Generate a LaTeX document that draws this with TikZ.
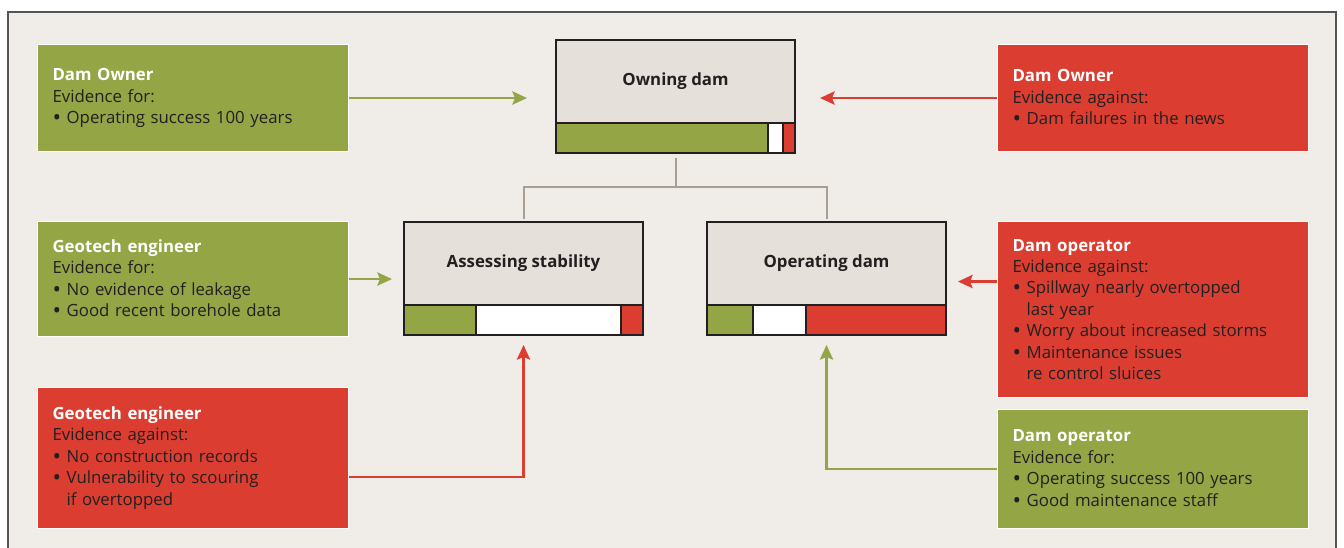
\documentclass[tikz,border=0pt]{standalone}
\usepackage{fontspec}
\setmainfont{Open Sans}
\usepackage{xcolor}
\usepackage{tikz}
\usetikzlibrary{arrows.meta,positioning}
\definecolor{panelbg}{RGB}{240,237,233}
\definecolor{taskbg}{RGB}{230,224,218}
\definecolor{forgreen}{RGB}{147,165,69}
\definecolor{againstred}{RGB}{219,62,49}
\definecolor{linkgray}{RGB}{168,158,148}
\definecolor{inkdark}{RGB}{35,31,32}
\definecolor{framegray}{RGB}{85,85,85}
\newcommand{\who}[1]{\textcolor{white}{\bfseries #1}}
\newcommand{\bul}{\raisebox{-0.22ex}{\scalebox{1.35}{\textbullet}}\ }
\newcommand{\cont}{\phantom{\scalebox{1.35}{\textbullet}\ }}

\begin{document}
\begin{tikzpicture}[x=0.75pt, y=-0.75pt,
    evidence/.style={rectangle, draw=white, line width=0.8pt, anchor=north west, text width=210.75pt, inner xsep=11.25pt, inner ysep=0pt, align=left, text=inkdark, font=\fontsize{12.6}{16.1}\selectfont},
    forbox/.style={evidence, fill=forgreen},
    againstbox/.style={evidence, fill=againstred},
    task/.style={rectangle, draw=inkdark, line width=1pt, fill=taskbg, anchor=north west, outer sep=0pt, minimum width=179.25pt, minimum height=62.25pt, font=\fontsize{12.6}{15}\selectfont\bfseries, text=inkdark},
    bar/.style={rectangle, draw=inkdark, line width=1pt, outer sep=0pt, minimum width=179.25pt, minimum height=22.5pt, inner sep=0pt},
    seg/.style={draw=inkdark, line width=1pt},
    link/.style={draw=linkgray, line width=1.5pt},
    proarrow/.style={-{Stealth[length=11pt, width=10pt, inset=2pt]}, draw=forgreen, line width=1.8pt},
    conarrow/.style={-{Stealth[length=11pt, width=10pt, inset=2pt]}, draw=againstred, line width=1.8pt}
]
\useasboundingbox (0,0) rectangle (1344,548);
\fill[white] (0,0) rectangle (1344,548);

% Panel
\fill[panelbg] (8,12) rectangle (1336,570);
\draw[framegray, line width=1.5pt] (8,570) -- (8,12) -- (1336,12) -- (1336,570);

% Decision tasks
\node[task] (owning) at (556,40) {Owning dam};
\node[bar, below=0pt of owning] (owningBar) {};
\node[task] (assess) at (404,222) {Assessing stability};
\node[bar, below=0pt of assess] (assessBar) {};
\node[task] (operate) at (707,222) {Operating dam};
\node[bar, below=0pt of operate] (operateBar) {};

% Support bars
\filldraw[seg, fill=forgreen] (owningBar.north west) rectangle ++(212,30);
\filldraw[seg, fill=white] (owningBar.north west) ++(212,0) rectangle ++(15,30);
\filldraw[seg, fill=againstred] (owningBar.north west) ++(227,0) rectangle ++(12,30);
\filldraw[seg, fill=forgreen] (assessBar.north west) rectangle ++(72,30);
\filldraw[seg, fill=white] (assessBar.north west) ++(72,0) rectangle ++(145,30);
\filldraw[seg, fill=againstred] (assessBar.north west) ++(217,0) rectangle ++(22,30);
\filldraw[seg, fill=forgreen] (operateBar.north west) rectangle ++(46,30);
\filldraw[seg, fill=white] (operateBar.north west) ++(46,0) rectangle ++(53,30);
\filldraw[seg, fill=againstred] (operateBar.north west) ++(99,0) rectangle ++(140,30);

% Evidence
\node[forbox, minimum height=80.25pt] (ownerFor) at (37,44)
    {\who{Dam Owner}\\Evidence for:\\\bul Operating success 100 years};
\node[againstbox, minimum height=80.25pt] (ownerAgainst) at (997,44)
    {\who{Dam Owner}\\Evidence against:\\\bul Dam failures in the news};
\node[forbox, minimum height=86.25pt] (geoFor) at (37,221)
    {\who{Geotech engineer}\\Evidence for:\\\bul No evidence of leakage\\\bul Good recent borehole data};
\node[againstbox, minimum height=105.75pt] (geoAgainst) at (37,387)
    {\who{Geotech engineer}\\Evidence against:\\\bul No construction records\\\bul Vulnerability to scouring\\\cont if overtopped};
\node[againstbox, minimum height=132pt] (opAgainst) at (997,221)
    {\who{Dam operator}\\Evidence against:\\\bul Spillway nearly overtopped\\\cont last year\\\bul Worry about increased storms\\\bul Maintenance issues\\\cont re control sluices};
\node[forbox, minimum height=89.25pt] (opFor) at (997,409)
    {\who{Dam operator}\\Evidence for:\\\bul Operating success 100 years\\\bul Good maintenance staff};

% Task tree
\draw[link] ([yshift=-3.75pt]owningBar.south) -- ++(0,29) -| ([yshift=2.25pt]assess.north);
\draw[link] ([yshift=-3.75pt]owningBar.south) -- ++(0,29) -| ([yshift=2.25pt]operate.north);

% Arrows
\draw[proarrow, shorten >=21.75pt] (ownerFor.east) -- (ownerFor.east -| owning.west);
\draw[conarrow, shorten >=18.75pt] (ownerAgainst.west) -- (ownerAgainst.west -| owning.east);
\draw[proarrow, shorten >=9pt] (geoFor.east) -- (geoFor.east -| assess.west);
\draw[conarrow, shorten >=9pt] ([yshift=21pt]opAgainst.west) coordinate (opIn) -- (opIn -| operate.east);
\draw[conarrow, shorten >=7.5pt] ([yshift=-14pt]geoAgainst.east) -| (assessBar.south);
\draw[proarrow, shorten >=7.5pt] (opFor.west) -| (operateBar.south);

\end{tikzpicture}
\end{document}
